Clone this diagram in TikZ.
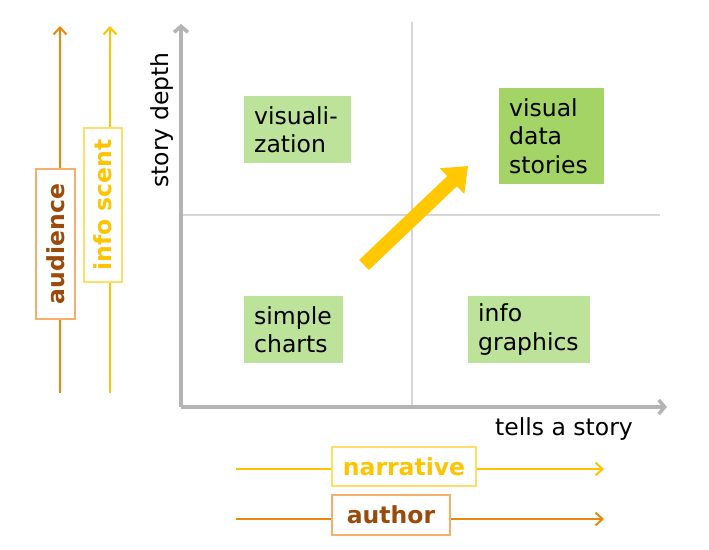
\documentclass[tikz,border=0pt]{standalone}
\usepackage{fontspec}
\setmainfont{DejaVu Sans}
\usetikzlibrary{arrows.meta}
\definecolor{axisgray}{HTML}{B4B4B4}
\definecolor{divgray}{HTML}{D6D6D6}
\definecolor{lightgreen}{HTML}{BDE39A}
\definecolor{midgreen}{HTML}{A3D465}
\definecolor{orangeline}{HTML}{E8890C}
\definecolor{orangebox}{HTML}{F4B06A}
\definecolor{browntext}{HTML}{9A4B0C}
\definecolor{yellowline}{HTML}{FFC400}
\definecolor{yellowbox}{HTML}{FFDD66}
\definecolor{bigarrow}{HTML}{FFC800}
\tikzset{
  axisline/.style={draw=axisgray, line width=3.5pt, -{Straight Barb[length=6pt,width=14pt,line width=3.5pt]}},
  divline/.style={draw=divgray, line width=1.5pt},
  qbox/.style={anchor=north west, inner xsep=10pt, inner ysep=0pt, align=left, font=\fontsize{23.5}{28.5}\selectfont, text=black},
  dimline/.style={line width=2pt, -{Straight Barb[length=7pt,width=13pt,line width=2pt]}},
  tagbox/.style={fill=white, line width=1.2pt, font=\bfseries\fontsize{23.5}{26}\selectfont, inner sep=0pt},
}
\begin{document}
\begin{tikzpicture}[x=1pt,y=-1pt]
\useasboundingbox (0,0) rectangle (709,549);
% dividers
\coordinate (vtop) at (412,22);
\coordinate (vbot) at (412,405);
\coordinate (hl) at (181,215);
\coordinate (hr) at (660,215);
\draw[divline] (vtop) -- (vbot);
\draw[divline] (hl) -- (hr);
% axes
\coordinate (origin) at (181,407);
\coordinate (ytip) at (181,24);
\coordinate (xtip) at (667,407);
\draw[axisline] (origin) -- (ytip);
\draw[axisline] (origin) -- (xtip);
\node[rotate=90, font=\fontsize{23.5}{26}\selectfont] (ylab) at (162,120) {story depth};
\node[font=\fontsize{23.5}{26}\selectfont] (xlab) at (564,429) {tells a story};
% quadrant boxes
\node[qbox, fill=lightgreen, text width=87pt, minimum height=67pt] (vis) at (244,96) {visuali-\\zation};
\node[qbox, fill=midgreen, text width=85pt, minimum height=96pt] (vds) at (499,88) {visual\\data\\stories};
\node[qbox, fill=lightgreen, text width=79pt, minimum height=67pt] (sc) at (244,296) {simple\\charts};
\node[qbox, fill=lightgreen, text width=102pt, minimum height=67pt] (ig) at (468,296) {info\\graphics};
% big arrow
\coordinate (ba1) at (364,265);
\coordinate (ba2) at (468,166);
\draw[bigarrow, line width=14pt, -{Triangle[length=22pt,width=34pt]}] (ba1) -- (ba2);
% audience
\coordinate (au1) at (60,393);
\coordinate (au2) at (60,26);
\draw[dimline, orangeline] (au1) -- (au2);
\node[tagbox, draw=orangebox, text=browntext, rotate=90, minimum width=150pt, minimum height=39pt] (aud) at (55.5,244) {audience};
% info scent
\coordinate (is1) at (110,393);
\coordinate (is2) at (110,26);
\draw[dimline, yellowline] (is1) -- (is2);
\node[tagbox, draw=yellowbox, text=yellowline, rotate=90, minimum width=154pt, minimum height=38pt] (isc) at (103,205) {info scent};
% narrative
\coordinate (na1) at (236,469);
\coordinate (na2) at (604,469);
\draw[dimline, yellowline] (na1) -- (na2);
\node[tagbox, draw=yellowbox, text=yellowline, minimum width=144pt, minimum height=39pt] (nar) at (404,466.5) {narrative};
% author
\coordinate (at1) at (236,519);
\coordinate (at2) at (604,519);
\draw[dimline, orangeline] (at1) -- (at2);
\node[tagbox, draw=orangebox, text=browntext, minimum width=118pt, minimum height=40pt] (aut) at (391,515) {author};
\end{tikzpicture}
\end{document}
